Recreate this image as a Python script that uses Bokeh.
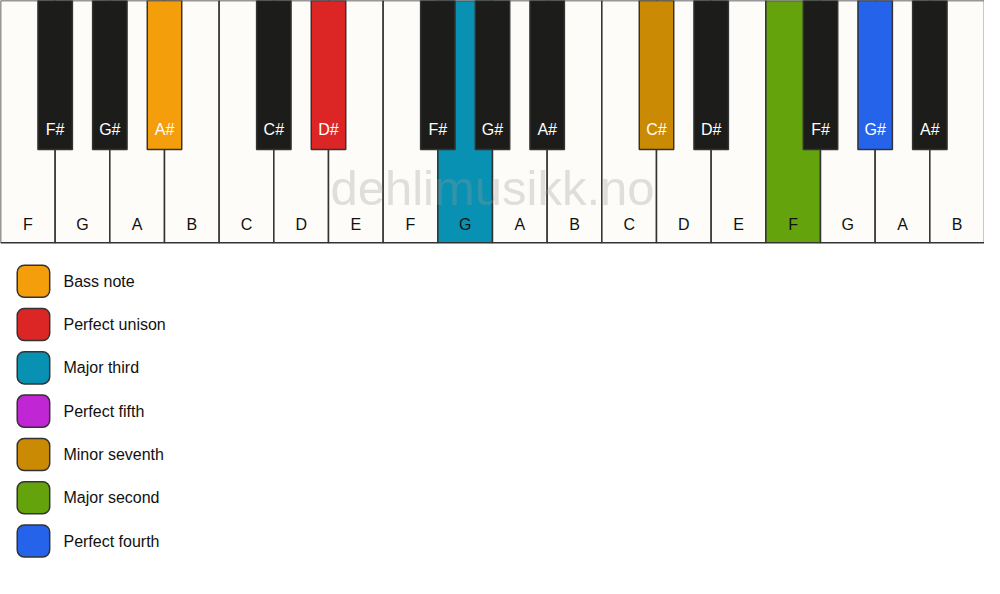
from bokeh.plotting import figure
from bokeh.models import Range1d, ColumnDataSource
from bokeh.core.properties import value
from bokeh.embed import file_html
from bokeh.resources import INLINE

# ---- data ----
white_labels = ["F", "G", "A", "B", "C", "D", "E", "F", "G", "A", "B",
                "C", "D", "E", "F", "G", "A", "B"]
# black key sits on the boundary after white key index
black_after = [0, 1, 2, 4, 5, 7, 8, 9, 11, 12, 14, 15, 16]
black_labels = ["F#", "G#", "A#", "C#", "D#", "F#", "G#", "A#", "C#", "D#", "F#", "G#", "A#"]

white_highlight = {8: "#0891b2", 14: "#65a30d"}
black_highlight = {2: "#f59e0b", 4: "#dc2626", 8: "#ca8a04", 11: "#2563eb"}

legend_labels = ["Bass note", "Perfect unison", "Major third", "Perfect fifth",
                 "Minor seventh", "Major second", "Perfect fourth"]
legend_colors = ["#f59e0b", "#dc2626", "#0891b2", "#c026d3",
                 "#ca8a04", "#65a30d", "#2563eb"]

watermark = "dehlimusikk.no"

# ---- layout constants ----
W, H = 1000, 594
KW = W / len(white_labels)
KH = 249
BW = 35
BH = 153
FONT = "Liberation Sans"

p = figure(width=984, height=578, output_backend="svg", toolbar_location=None,
           x_range=Range1d(0, W), y_range=Range1d(H, 0), min_border=0)
p.axis.visible = False
p.grid.visible = False
p.outline_line_color = None
p.background_fill_color = "white"
p.border_fill_color = "white"

wl = [i * KW for i in range(len(white_labels))]
wsrc = ColumnDataSource(dict(
    left=wl, right=[x + KW for x in wl],
    top=[0] * len(wl), bottom=[KH] * len(wl),
    color=[white_highlight.get(i, "#fdfcf9") for i in range(len(wl))],
    cx=[x + KW / 2 for x in wl], lab=white_labels,
    ty=[KH - 19] * len(wl)))
p.quad(left="left", right="right", top="top", bottom="bottom", source=wsrc,
       fill_color="color", line_color="#333333", line_width=1.5)
p.text(x="cx", y="ty", text="lab", source=wsrc, text_align="center",
       text_baseline="middle", text_font=value(FONT), text_font_size="16px",
       text_color="#111111")

bc = [(i + 1) * KW for i in black_after]
bsrc = ColumnDataSource(dict(
    left=[c - BW / 2 for c in bc], right=[c + BW / 2 for c in bc],
    top=[0] * len(bc), bottom=[BH] * len(bc),
    color=[black_highlight.get(i, "#1c1c1b") for i in range(len(bc))],
    cx=bc, lab=black_labels, ty=[BH - 20] * len(bc)))
p.quad(left="left", right="right", top="top", bottom="bottom", source=bsrc,
       fill_color="color", line_color="#333333", line_width=1.5)
p.text(x="cx", y="ty", text="lab", source=bsrc, text_align="center",
       text_baseline="middle", text_font=value(FONT), text_font_size="16px",
       text_color="white")

p.text(x=[W / 2], y=[193], text=[watermark], text_align="center",
       text_baseline="middle", text_font=value(FONT), text_font_size="49px",
       text_color="#999999", text_alpha=0.3)

ly = [288.5 + 44.5 * i for i in range(len(legend_labels))]
lsrc = ColumnDataSource(dict(x=[33.5] * len(ly), y=ly, color=legend_colors,
                             tx=[64] * len(ly), lab=legend_labels))
try:
    p.rect(x="x", y="y", width=33, height=33, source=lsrc, fill_color="color",
           line_color="#333333", line_width=1.5, border_radius=7)
except Exception:
    p.rect(x="x", y="y", width=33, height=33, source=lsrc, fill_color="color",
           line_color="#333333", line_width=1.5)
p.text(x="tx", y="y", text="lab", source=lsrc, text_align="left",
       text_baseline="middle", text_font=value(FONT), text_font_size="16px",
       text_color="#111111")

open("out.html", "w").write(file_html(p, INLINE))
